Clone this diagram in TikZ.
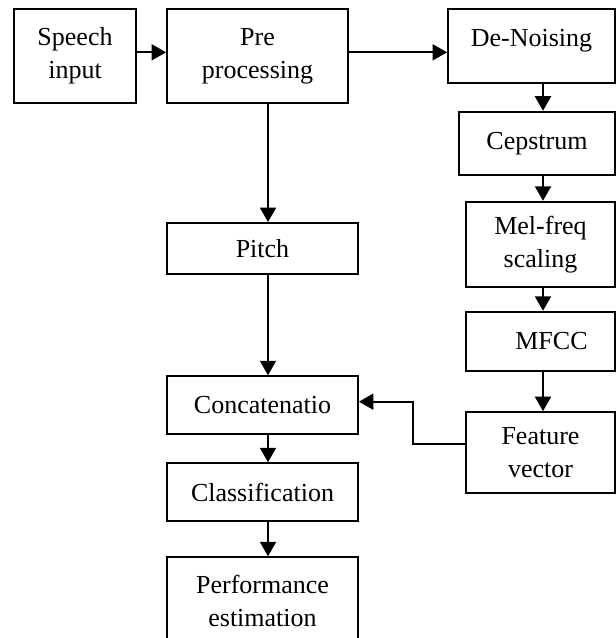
\documentclass[tikz,border=0pt]{standalone}
\usepackage{fontspec}
\setmainfont{Liberation Serif}
\usetikzlibrary{arrows.meta}

\tikzset{block/.style={draw, line width=1.8bp, inner sep=0pt, align=center, font=\fontsize{26bp}{33bp}\selectfont},
 flow/.style={line width=2bp, -{Triangle[length=14.5bp,width=16bp]}}}

\begin{document}
\begin{tikzpicture}[x=1bp,y=-1bp]
\useasboundingbox (0,0) rectangle (616,638);
\clip (0,0) rectangle (616,638);
% boxes, left
\node[block, minimum width=122bp, minimum height=94bp] (speech) at (75,56) {Speech\\input};
\node[block, minimum width=181bp, minimum height=94bp] (pre) at (257.5,56) {Pre\\processing};
\node[block, minimum width=191bp, minimum height=51bp] (pitch) at (262.5,248.5) {Pitch};
\node[block, minimum width=191bp, minimum height=57.7bp] (concat) at (262.5,405) {Concatenatio};
\node[block, minimum width=191bp, minimum height=57.7bp] (classify) at (262.5,492) {Classification};
\node[block, minimum width=191bp, minimum height=86.7bp] (perform) at (262.5,600.6) {Performance\\estimation};
% boxes, right
\node[block, minimum width=167bp, minimum height=74bp, text depth=17bp] (denoise) at (531.5,46) {De-Noising};
\node[block, minimum width=156bp, minimum height=63.3bp] (cepstrum) at (537,143.3) {Cepstrum};
\node[block, minimum width=149bp, minimum height=85.6bp] (melfreq) at (540.5,244.5) {Mel-freq\\scaling};
\node[block, minimum width=149bp, minimum height=59bp] (mfcc) at (540.5,341.2) {\hspace*{22bp}MFCC};
\node[block, minimum width=149bp, minimum height=81.3bp] (feature) at (540.5,452.7) {Feature\\vector};
% arrows
\coordinate (toprow) at (0,52.3);
\coordinate (lcol) at (268,0);
\coordinate (rcol) at (543,0);
\draw[flow] (speech.east |- toprow)--(pre.west |- toprow);
\draw[flow] (pre.east |- toprow)--(denoise.west |- toprow);
\draw[flow] (pre.south -| lcol)--(pitch.north -| lcol);
\draw[flow] (pitch.south -| lcol)--(concat.north -| lcol);
\draw[flow] (concat.south -| lcol)--(classify.north -| lcol);
\draw[flow] (classify.south -| lcol)--(perform.north -| lcol);
%
\draw[flow] (denoise.south -| rcol)--(cepstrum.north -| rcol);
\draw[flow] (cepstrum.south -| rcol)--(melfreq.north -| rcol);
\draw[flow] (melfreq.south -| rcol)--(mfcc.north -| rcol);
\draw[flow] (mfcc.south -| rcol)--(feature.north -| rcol);
% back to concatenation
\coordinate (fbend) at (413.3,444.3);
\coordinate (cbend) at (413.3,401.7);
\draw[flow] (feature.west |- fbend)--(fbend)--(cbend)--(concat.east |- cbend);
\end{tikzpicture}
\end{document}
